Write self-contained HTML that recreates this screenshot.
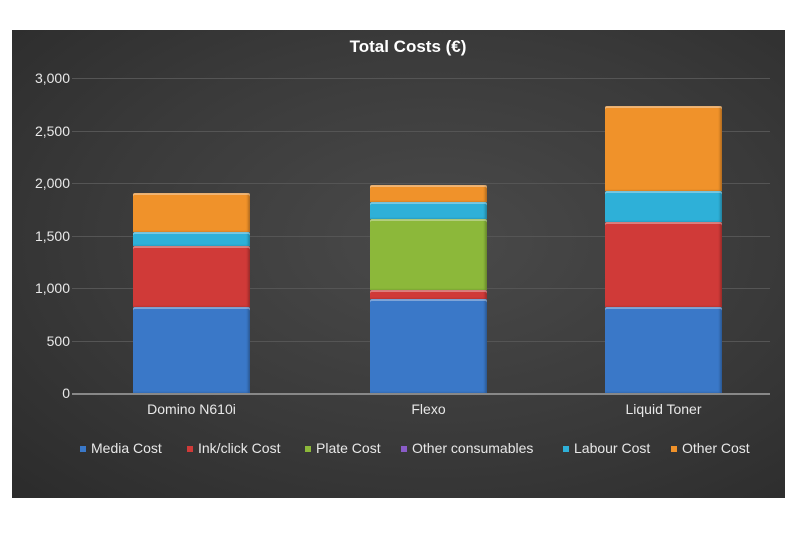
<!DOCTYPE html>
<html><head><style>
body{margin:0;background:#fff;width:796px;height:550px;position:relative;overflow:hidden;font-family:"Liberation Sans",sans-serif;}
#p{position:absolute;left:12px;top:30px;width:773px;height:468px;background:radial-gradient(ellipse at 55% 45%,#4a4a4a 0%,#3a3a3a 55%,#2b2b2b 100%);}
.t{position:absolute;color:#e8e8e8;font-size:14px;white-space:nowrap;}
.g{position:absolute;left:72px;width:698px;height:1px;background:#555;}
.b{position:absolute;border-radius:2px 2px 0 0;box-shadow:inset 0 2px 0 rgba(255,255,255,.35),inset -2px 0 2px rgba(0,0,0,.25);}
.m{display:inline-block;width:6px;height:6px;margin-right:5px;vertical-align:middle;}
</style></head><body>
<div id="p"></div>
<div class="t" style="left:0;width:816px;top:37px;text-align:center;font-weight:bold;font-size:17px;color:#fff">Total Costs (€)</div>
<div class="g" style="top:78px"></div><div class="g" style="top:131px"></div><div class="g" style="top:183px"></div><div class="g" style="top:236px"></div><div class="g" style="top:288px"></div><div class="g" style="top:341px"></div>
<div class="g" style="top:393px;background:#888;height:2px"></div>
<div class="t" style="left:20px;width:50px;text-align:right;top:70px">3,000</div>
<div class="t" style="left:20px;width:50px;text-align:right;top:123px">2,500</div>
<div class="t" style="left:20px;width:50px;text-align:right;top:175px">2,000</div>
<div class="t" style="left:20px;width:50px;text-align:right;top:228px">1,500</div>
<div class="t" style="left:20px;width:50px;text-align:right;top:280px">1,000</div>
<div class="t" style="left:20px;width:50px;text-align:right;top:333px">500</div>
<div class="t" style="left:20px;width:50px;text-align:right;top:385px">0</div>
<div class="b" style="left:133px;width:117px;top:307px;height:86px;background:#3a78c8"></div>
<div class="b" style="left:133px;width:117px;top:246px;height:61px;background:#d03a38"></div>
<div class="b" style="left:133px;width:117px;top:232px;height:14px;background:#2eb0d8"></div>
<div class="b" style="left:133px;width:117px;top:193px;height:39px;background:#f0922a"></div>
<div class="b" style="left:370px;width:117px;top:299px;height:94px;background:#3a78c8"></div>
<div class="b" style="left:370px;width:117px;top:290px;height:9px;background:#d03a38"></div>
<div class="b" style="left:370px;width:117px;top:219px;height:71px;background:#8cb83a"></div>
<div class="b" style="left:370px;width:117px;top:202px;height:17px;background:#2eb0d8"></div>
<div class="b" style="left:370px;width:117px;top:185px;height:17px;background:#f0922a"></div>
<div class="b" style="left:605px;width:117px;top:307px;height:86px;background:#3a78c8"></div>
<div class="b" style="left:605px;width:117px;top:222px;height:85px;background:#d03a38"></div>
<div class="b" style="left:605px;width:117px;top:191px;height:31px;background:#2eb0d8"></div>
<div class="b" style="left:605px;width:117px;top:106px;height:85px;background:#f0922a"></div>
<div class="t" style="left:133px;width:117px;text-align:center;top:401px">Domino N610i</div>
<div class="t" style="left:370px;width:117px;text-align:center;top:401px">Flexo</div>
<div class="t" style="left:605px;width:117px;text-align:center;top:401px">Liquid Toner</div>
<div class="t" style="left:80px;top:440px"><span class="m" style="background:#3a78c8"></span>Media Cost</div>
<div class="t" style="left:187px;top:440px"><span class="m" style="background:#d03a38"></span>Ink/click Cost</div>
<div class="t" style="left:305px;top:440px"><span class="m" style="background:#8cb83a"></span>Plate Cost</div>
<div class="t" style="left:401px;top:440px"><span class="m" style="background:#8a5cc8"></span>Other consumables</div>
<div class="t" style="left:563px;top:440px"><span class="m" style="background:#2eb0d8"></span>Labour Cost</div>
<div class="t" style="left:671px;top:440px"><span class="m" style="background:#f0922a"></span>Other Cost</div>
</body></html>
